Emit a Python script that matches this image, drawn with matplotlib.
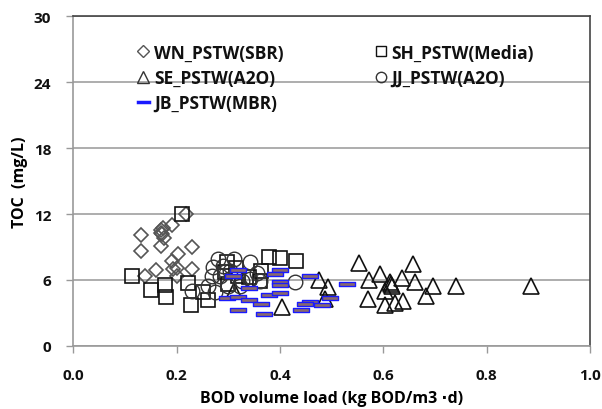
import matplotlib
matplotlib.use("Agg")
import matplotlib.pyplot as plt
from matplotlib.path import Path

plt.rcParams['font.family'] = ['Open Sans', 'DejaVu Sans']

# WN_PSTW(SBR)
wn_x = [0.130, 0.130, 0.169, 0.169, 0.190, 0.218, 0.229, 0.203, 0.190, 0.201, 0.229, 0.159, 0.139, 0.193, 0.200, 0.170, 0.172, 0.175, 0.173]
wn_y = [10.1, 8.66, 10.3, 9.1, 11.0, 12.0, 8.97, 8.36, 7.75, 7.06, 7.0, 6.9, 6.4, 7.0, 6.4, 10.5, 10.2, 9.8, 10.7]
# SH_PSTW(Media)
sh_x = [0.114, 0.150, 0.177, 0.179, 0.210, 0.222, 0.228, 0.250, 0.261, 0.297, 0.293, 0.319, 0.339, 0.364, 0.361, 0.379, 0.400, 0.431, 0.300, 0.315]
sh_y = [6.34, 5.12, 5.57, 4.43, 12.0, 5.68, 3.75, 4.88, 4.21, 7.66, 6.7, 6.39, 6.25, 6.85, 5.94, 8.06, 7.97, 7.75, 5.6, 7.1]
# SE_PSTW(A2O)
se_x = [0.553, 0.658, 0.476, 0.493, 0.573, 0.594, 0.613, 0.636, 0.661, 0.697, 0.740, 0.885, 0.603, 0.682, 0.571, 0.603, 0.622, 0.639, 0.487, 0.403, 0.616, 0.615, 0.310]
se_y = [7.52, 7.45, 6.0, 5.34, 6.0, 6.55, 5.79, 6.18, 5.79, 5.48, 5.43, 5.43, 5.03, 4.57, 4.27, 3.73, 3.91, 4.12, 4.27, 3.52, 5.43, 5.6, 5.0]
# JJ_PSTW(A2O)
jj_x = [0.280, 0.310, 0.342, 0.271, 0.268, 0.261, 0.300, 0.361, 0.429, 0.284, 0.342, 0.303, 0.326, 0.274, 0.229, 0.322, 0.290, 0.355]
jj_y = [7.9, 7.9, 7.6, 7.15, 6.4, 5.48, 5.48, 5.94, 5.85, 6.4, 6.1, 6.85, 5.94, 4.88, 5.03, 5.48, 7.3, 6.6]
# JB_PSTW(MBR)
jb_x = [0.319, 0.308, 0.400, 0.390, 0.400, 0.400, 0.339, 0.297, 0.318, 0.340, 0.379, 0.400, 0.364, 0.319, 0.368, 0.458, 0.458, 0.441, 0.448, 0.529, 0.497, 0.481]
jb_y = [6.91, 6.39, 6.91, 6.55, 5.85, 5.55, 5.23, 4.34, 4.45, 4.21, 4.64, 4.79, 3.82, 3.27, 2.91, 6.39, 3.97, 3.3, 3.77, 5.64, 4.34, 3.73]

labels = ['WN_PSTW(SBR)', 'SH_PSTW(Media)', 'SE_PSTW(A2O)', 'JJ_PSTW(A2O)', 'JB_PSTW(MBR)']
xticks = [0.0, 0.2, 0.4, 0.6, 0.8, 1.0]
yticks = [0, 6, 12, 18, 24, 30]

fig = plt.figure(figsize=(6.02, 4.10), dpi=100)
ax = fig.add_axes([0.122, 0.154, 0.858, 0.804])

dash = Path([(-1, -0.3), (1, -0.3), (1, 0.3), (-1, 0.3), (-1, -0.3)],
            [Path.MOVETO, Path.LINETO, Path.LINETO, Path.LINETO, Path.CLOSEPOLY])

ax.plot(wn_x, wn_y, ls='none', marker='D', ms=7.5, mfc='none', mec='#555555', mew=1.2)
ax.plot(sh_x, sh_y, ls='none', marker='s', ms=10.5, mfc='none', mec='#111111', mew=1.2)
ax.plot(se_x, se_y, ls='none', marker='^', ms=11, mfc='none', mec='#111111', mew=1.2)
ax.plot(jj_x, jj_y, ls='none', marker='o', ms=10.5, mfc='none', mec='#333333', mew=1.0)
ax.plot(jb_x, jb_y, ls='none', marker=dash, ms=11, mfc='#8a6a6a', mec='#1a1aff', mew=1.0)

ax.set_xlim(0, 1.0)
ax.set_ylim(0, 30)
ax.set_xticks(xticks)
ax.set_xticklabels([f'{t:.1f}' for t in xticks])
ax.set_yticks(yticks)
ax.yaxis.grid(True, color='#a0a0a0', lw=1.2)
ax.set_axisbelow(True)
for s in ax.spines.values():
    s.set_color('#444444')
    s.set_linewidth(1.2)
ax.spines['left'].set_color('#999999')
ax.spines['bottom'].set_color('#999999')
ax.tick_params(axis='both', colors='#999999', labelcolor='#111111', labelsize=11, length=5, width=1)
for lab in ax.get_xticklabels() + ax.get_yticklabels():
    lab.set_fontweight('bold')
ax.tick_params(axis='x', pad=11)
ax.tick_params(axis='y', pad=11)

ax.set_xlabel('BOD volume load (kg BOD/m3 \u2219d)', fontsize=11.5, fontweight='bold', labelpad=6)
ax.set_ylabel('TOC  (mg/L)', fontsize=11.5, fontweight='bold', labelpad=4)

# legend (two columns, no frame); handles ordered column-wise so rows read WN/SH, SE/JJ, JB
leg_handles = [
    ax.plot([], [], ls='none', marker='D', ms=6, mfc='none', mec='#555555', mew=1.0)[0],
    ax.plot([], [], ls='none', marker='^', ms=8, mfc='none', mec='#333333', mew=1.0)[0],
    ax.plot([], [], ls='-', color='#1a1aff', lw=2.5)[0],
    ax.plot([], [], ls='none', marker='s', ms=7.5, mfc='none', mec='#111111', mew=1.0)[0],
    ax.plot([], [], ls='none', marker='o', ms=7.5, mfc='none', mec='#333333', mew=1.0)[0],
]
leg_labels = [labels[0], labels[2], labels[4], labels[1], labels[3]]
leg = ax.legend(leg_handles, leg_labels, ncol=2, frameon=False, loc='upper left',
                bbox_to_anchor=(0.095, 0.965), columnspacing=5.3, handlelength=0.6,
                handletextpad=0.3, labelspacing=0.42, prop={'weight': 'bold', 'size': 12.5})
plt.setp(leg.get_texts(), color='#111111')

fig.savefig('out.png', dpi=100)
